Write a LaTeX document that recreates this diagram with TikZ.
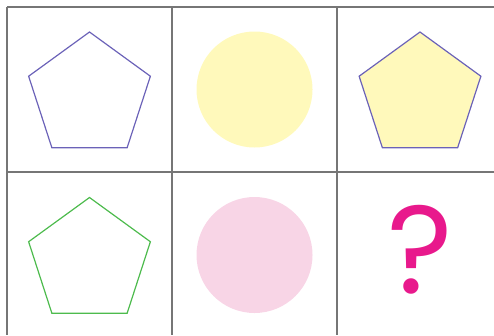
\documentclass[tikz,border=0pt]{standalone}
\usepackage{fontspec}
\newfontfamily\qfont{Poppins}
\usetikzlibrary{shapes.geometric}
\definecolor{gridgray}{HTML}{767676}
\definecolor{penviolet}{HTML}{6B62B8}
\definecolor{pengreen}{HTML}{4DBB4D}
\definecolor{softyellow}{HTML}{FFF9BB}
\definecolor{softpink}{HTML}{F8D5E6}
\definecolor{qmagenta}{HTML}{E8198C}
\tikzset{
	gridline/.style={draw=gridgray, line width=1.5pt},
	pentagon/.style={regular polygon, regular polygon sides=5, minimum size=128pt, inner sep=0pt, line width=1.2pt},
	disc/.style={circle, minimum size=116pt, inner sep=0pt}
}

\begin{document}
\begin{tikzpicture}[x=1pt, y=-1pt]
	\useasboundingbox (0, 0) rectangle (494, 335);
	% grid of cells
	\draw[gridline] (7, 7) -- (494, 7);
	\draw[gridline] (7, 172) -- (494, 172);
	\draw[gridline] (7, 7) -- (7, 335);
	\draw[gridline] (172, 7) -- (172, 335);
	\draw[gridline] (337, 7) -- (337, 335);
	% shapes
	\node[pentagon, draw=penviolet] (pentA) at (89.5, 96) {};
	\node[disc, fill=softyellow] (discA) at (254.5, 89.5) {};
	\node[pentagon, draw=penviolet, fill=softyellow] (pentB) at (420, 96) {};
	\node[pentagon, draw=pengreen] (pentC) at (89.5, 261.5) {};
	\node[disc, fill=softpink] (discB) at (254.5, 255) {};
	\node[anchor=base, text=qmagenta, inner sep=0pt, font=\qfont\fontsize{125}{125}\selectfont] (quest) at (420, 293) {?};
\end{tikzpicture}
\end{document}
